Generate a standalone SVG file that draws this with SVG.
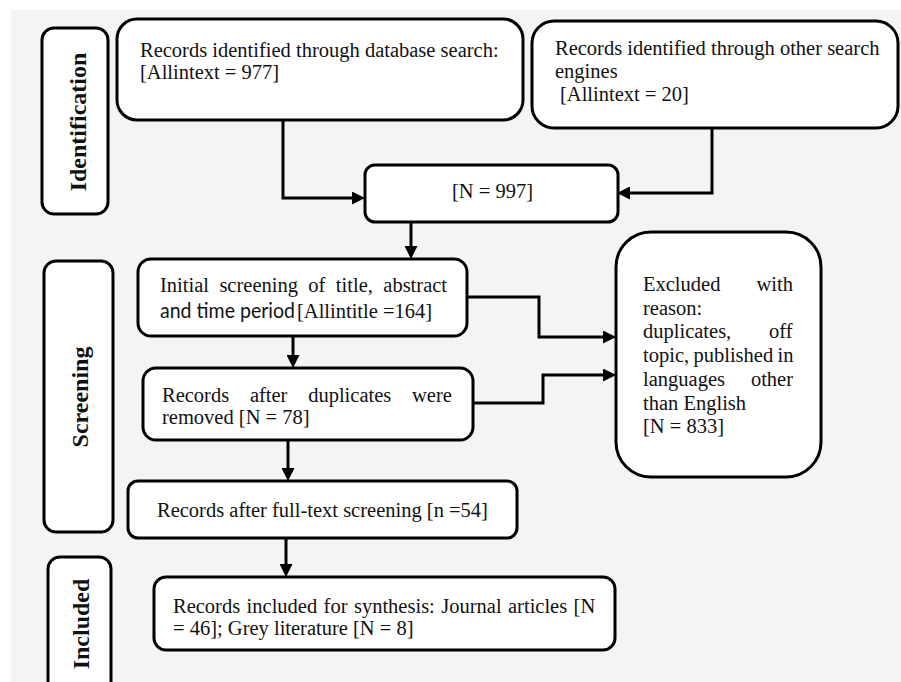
<svg xmlns="http://www.w3.org/2000/svg" width="901" height="682" viewBox="0 0 901 682">
<style>
.box{fill:#fff;stroke:#000;stroke-width:3}
.t{font-family:"Liberation Serif","Times New Roman",serif;font-size:20.5px;fill:#111}
.lab{font-family:"Liberation Serif","Times New Roman",serif;font-size:24px;font-weight:bold;fill:#111;text-anchor:middle}
.c{fill:none;stroke:#000;stroke-width:3}
.sans{font-family:Lato,"Open Sans",sans-serif}
</style>
<defs>
<marker id="ah" markerUnits="userSpaceOnUse" markerWidth="14" markerHeight="13" refX="5" refY="6.5" orient="auto">
<path d="M0,0 L13,6.5 L0,13 z" fill="#000"/>
</marker>
</defs>
<rect x="11" y="10" width="890" height="672" fill="#f4f4f4"/>

<g id="label-identification">
<rect class="box" x="42" y="28" width="66" height="186" rx="12"/>
<text class="lab" transform="translate(86,122) rotate(-90)">Identification</text>
</g>
<g id="label-screening">
<rect class="box" x="44" y="261" width="69" height="271" rx="12"/>
<text class="lab" transform="translate(88,397) rotate(-90)">Screening</text>
</g>
<g id="label-included">
<rect class="box" x="48" y="557" width="63" height="150" rx="12"/>
<text class="lab" transform="translate(89,624) rotate(-90)">Included</text>
</g>

<g id="connectors">
<path class="c" d="M283,120 V198 H357" marker-end="url(#ah)"/>
<path class="c" d="M712,128 V193 H625" marker-end="url(#ah)"/>
<path class="c" d="M411,222 V251" marker-end="url(#ah)"/>
<path class="c" d="M293,336 V360" marker-end="url(#ah)"/>
<path class="c" d="M288,440 V473" marker-end="url(#ah)"/>
<path class="c" d="M286,538 V569" marker-end="url(#ah)"/>
<path class="c" d="M467,297 H539 V337 H608" marker-end="url(#ah)"/>
<path class="c" d="M473,403 H543 V375 H608" marker-end="url(#ah)"/>
</g>

<g id="db-search">
<rect class="box" x="117" y="19" width="406" height="101" rx="20"/>
<text class="t" x="140" y="57">Records identified through database search:</text>
<text class="t" x="140" y="79">[Allintext = 977]</text>
</g>

<g id="other-search">
<rect class="box" x="532" y="21" width="366" height="107" rx="22"/>
<text class="t" x="555" y="55">Records identified through other search</text>
<text class="t" x="555" y="78">engines</text>
<text class="t" x="560" y="101">[Allintext = 20]</text>
</g>

<g id="total">
<rect class="box" x="365" y="165" width="253" height="57" rx="10"/>
<text class="t" x="452" y="198">[N = 997]</text>
</g>

<g id="initial-screening">
<rect class="box" x="138" y="259" width="329" height="77" rx="13"/>
<text class="t" x="160" y="292" word-spacing="5.3">Initial screening of title, abstract</text>
<text class="t" y="318"><tspan class="sans" x="160" textLength="135" lengthAdjust="spacingAndGlyphs">and time period</tspan><tspan x="297">[Allintitle =164]</tspan></text>
</g>

<g id="duplicates">
<rect class="box" x="143" y="368" width="330" height="72" rx="13"/>
<text class="t" x="162" y="402" word-spacing="15.6">Records after duplicates were</text>
<text class="t" x="162" y="424">removed [N = 78]</text>
</g>

<g id="excluded">
<rect class="box" x="616" y="232" width="205" height="245" rx="35"/>
<text class="t" x="643" y="291" word-spacing="31">Excluded with</text>
<text class="t" x="643" y="314.7">reason:</text>
<text class="t" x="643" y="338.4" word-spacing="32.7">duplicates, off</text>
<text class="t" x="643" y="362" word-spacing="-0.8">topic, published in</text>
<text class="t" x="643" y="385.8" word-spacing="20.8">languages other</text>
<text class="t" x="643" y="409.5">than English</text>
<text class="t" x="643" y="433.2">[N = 833]</text>
</g>

<g id="full-text">
<rect class="box" x="128" y="481" width="389" height="57" rx="10"/>
<text class="t" x="157" y="517">Records after full-text screening [n =54]</text>
</g>

<g id="synthesis">
<rect class="box" x="154" y="577" width="461" height="73" rx="12"/>
<text class="t" x="173" y="613" word-spacing="1.3">Records included for synthesis: Journal articles [N</text>
<text class="t" x="173" y="635">= 46]; Grey literature [N = 8]</text>
</g>
</svg>
